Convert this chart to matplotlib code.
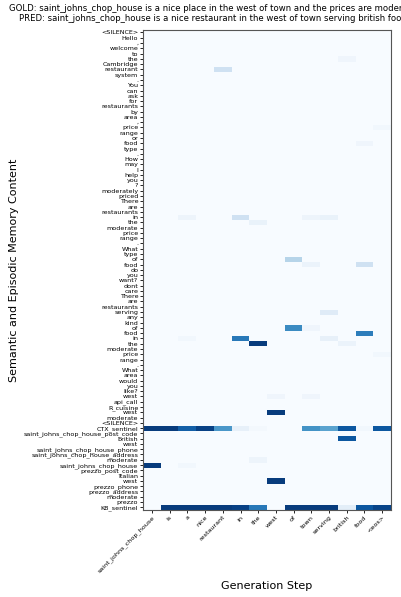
import numpy as np
import matplotlib
matplotlib.use("Agg")
import matplotlib.pyplot as plt

memory_labels = [
    "<SILENCE>", "Hello", ",", "welcome", "to", "the", "Cambridge", "restaurant", "system", ".",
    "You", "can", "ask", "for", "restaurants", "by", "area", ",", "price", "range", "or", "food", "type", ".",
    "How", "may", "I", "help", "you", "?",
    "moderately", "priced",
    "There", "are", "restaurants", "in", "the", "moderate", "price", "range", ".",
    "What", "type", "of", "food", "do", "you", "want?",
    "dont", "care",
    "There", "are", "restaurants", "serving", "any", "kind", "of", "food", "in", "the", "moderate", "price", "range", ".",
    "What", "area", "would", "you", "like?",
    "west",
    "api_call", "R_cuisine", "west", "moderate",
    "<SILENCE>", "CTX_sentinel",
    "saint_johns_chop_house_post_code", "british", "west", "saint_johns_chop_house_phone",
    "saint_johns_chop_house_address", "moderate", "saint_johns_chop_house",
    "prezzo_post_code", "italian", "west", "prezzo_phone", "prezzo_address", "moderate", "prezzo",
    "KB_sentinel",
]

gen_steps = ["saint_johns_chop_house", "is", "a", "nice", "restaurant", "in", "the",
             "west", "of", "town", "serving", "british", "food", "<eos>"]

gold = "GOLD: saint_johns_chop_house is a nice place in the west of town and the prices are moderate"
pred = "PRED: saint_johns_chop_house is a nice restaurant in the west of town serving british food"

# sparse attention weights: (memory row, generation step, weight)
att_rows = [75, 75, 75, 75, 75, 75, 75, 75, 75, 75, 75, 75,
            77, 72, 82, 81, 85,
            90, 90, 90, 90, 90, 90, 90, 90, 90, 90, 90, 90,
            43, 44, 44, 53, 56, 56, 57, 58, 58, 58, 59, 59,
            7, 5, 35, 35, 35, 35, 36, 69, 69, 61, 18, 21, 82]
att_cols = [0, 1, 2, 3, 4, 5, 6, 9, 10, 11, 12, 13,
            11, 7, 0, 6, 7,
            1, 2, 3, 4, 5, 6, 8, 9, 10, 11, 12, 13,
            8, 9, 12, 10, 8, 9, 12, 5, 2, 10, 6, 11,
            4, 11, 2, 5, 9, 10, 6, 7, 9, 13, 13, 12, 2]
att_vals = [0.95, 0.95, 0.82, 0.93, 0.60, 0.08, 0.02, 0.62, 0.55, 0.85, 0.03, 0.85,
            0.85, 0.95, 0.95, 0.05, 0.95,
            0.95, 0.95, 0.95, 0.95, 0.93, 0.72, 0.95, 0.95, 0.95, 0.10, 0.85, 0.92,
            0.30, 0.06, 0.20, 0.12, 0.65, 0.04, 0.70, 0.72, 0.03, 0.08, 0.95, 0.06,
            0.20, 0.04, 0.05, 0.20, 0.05, 0.07, 0.07, 0.04, 0.04, 0.03, 0.03, 0.04, 0.03]

attn = np.zeros((len(memory_labels), len(gen_steps)))
for r, c, v in zip(att_rows, att_cols, att_vals):
    attn[r, c] = v

fig = plt.figure(figsize=(4.01, 5.97), dpi=100)
ax = fig.add_axes([0.357, 0.146, 0.618, 0.804])
ax.imshow(attn, cmap="Blues", aspect="auto", vmin=0, vmax=1, interpolation="nearest")

ax.set_yticks(np.arange(len(memory_labels)))
ax.set_yticklabels(memory_labels, fontsize=4.6)
ax.set_xticks(np.arange(len(gen_steps)))
ax.set_xticklabels(gen_steps, fontsize=4.6, rotation=45, ha="right", rotation_mode="anchor")
ax.tick_params(axis="both", length=2.5, width=0.6, pad=1)
for s in ax.spines.values():
    s.set_color("#555555")
    s.set_linewidth(0.8)

ax.set_ylabel("Semantic and Episodic Memory Content", fontsize=8)
ax.yaxis.set_label_coords(-0.5, 0.5)
ax.set_xlabel("Generation Step", fontsize=8)
ax.xaxis.set_label_coords(0.5, -0.148)
fig.text(0.53, 1 - 13.5 / 597, gold + "\n" + pred, fontsize=6.1, ha="center", va="center",
         linespacing=1.2)

fig.savefig("out.png", dpi=100)
